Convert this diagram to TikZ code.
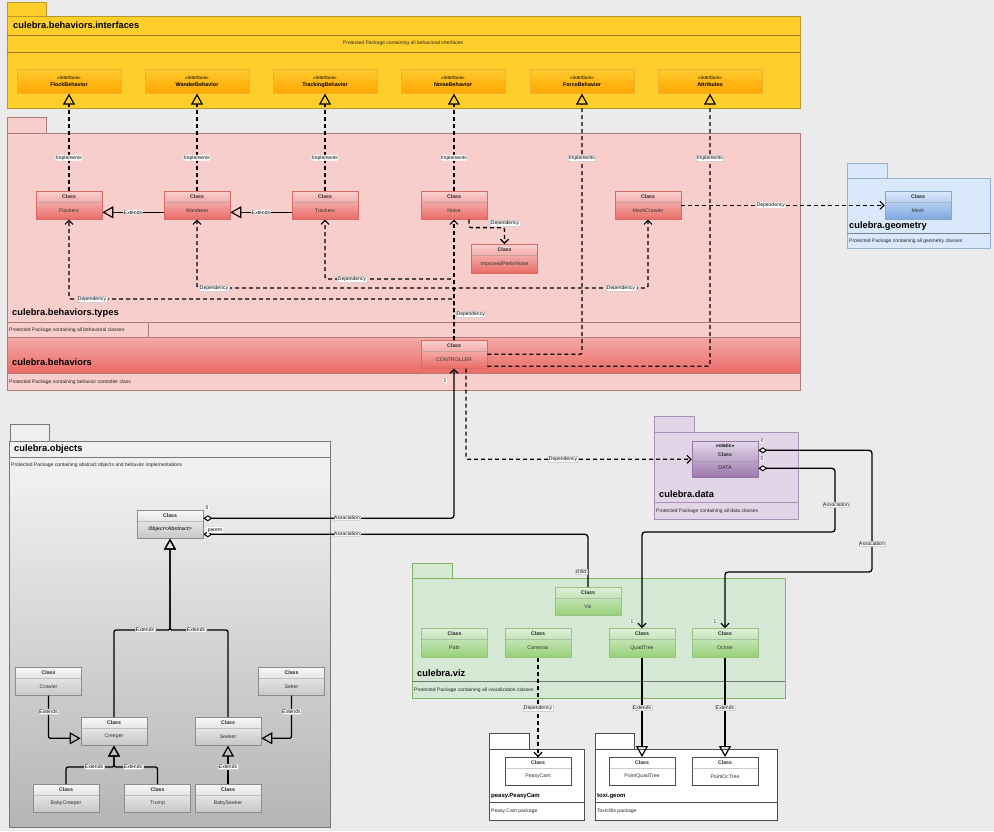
\documentclass[tikz,border=0pt]{standalone}
\usepackage{fontspec}
\setmainfont{Liberation Sans}
\usetikzlibrary{arrows.meta}
\definecolor{bg}{HTML}{EBEBEB}
\definecolor{yfill}{HTML}{FFCE2A}
\definecolor{yborder}{HTML}{B8962A}
\definecolor{itop}{HTML}{FFCB2E}
\definecolor{ibot}{HTML}{FFA500}
\definecolor{iborder}{HTML}{F0B030}
\definecolor{pfill}{HTML}{F8CECC}
\definecolor{pborder}{HTML}{B07A78}
\definecolor{ctop}{HTML}{F9D2D0}
\definecolor{cbot}{HTML}{EA6B66}
\definecolor{cborder}{HTML}{D86A66}
\definecolor{bandtop}{HTML}{F5ABA8}
\definecolor{bandbot}{HTML}{EA6B66}
\definecolor{gfill}{HTML}{DAE8FC}
\definecolor{gborder}{HTML}{6C8EBF}
\definecolor{mbot}{HTML}{7EA6E0}
\definecolor{dfill}{HTML}{E1D5E7}
\definecolor{dborder}{HTML}{9673A6}
\definecolor{dtop}{HTML}{E4D8EA}
\definecolor{dbot}{HTML}{9A78AC}
\definecolor{vfill}{HTML}{D5E8D4}
\definecolor{vborder}{HTML}{82B366}
\definecolor{vtop}{HTML}{DDF0DA}
\definecolor{vbot}{HTML}{97D077}
\definecolor{otop}{HTML}{F0F0F0}
\definecolor{obot}{HTML}{B5B5B5}
\definecolor{oborder}{HTML}{777777}
\newcommand{\fs}[1]{\fontsize{#1}{#1}\selectfont}
\tikzset{
 lbl/.style={fill=white, draw=black!18, line width=0.2pt, inner sep=0.6pt, font=\fs{5}},
 mult/.style={fill=white, inner sep=0.6pt, font=\fs{5}},
 dep/.style={draw=black, line width=1.3pt, dash pattern=on 4pt off 3pt, -{Straight Barb[length=4pt,width=8pt,line width=1.1pt]}, rounded corners=2pt},
 ext/.style={draw=black, line width=1.3pt, -{Triangle[open,length=11pt,width=12pt,line width=1.2pt]}, rounded corners=2pt},
 impl/.style={ext, dash pattern=on 4pt off 3pt},
 assoc/.style={draw=black, line width=1.3pt, {Diamond[fill=white,length=9pt,width=6pt,line width=1pt]}-{Straight Barb[length=4pt,width=8pt,line width=1.1pt]}, rounded corners=3pt},
 assocn/.style={draw=black, line width=1.3pt, {Diamond[fill=white,length=9pt,width=6pt,line width=1pt]}-, rounded corners=3pt},
 ptitle/.style={font=\fs{9.3}\bfseries, anchor=west, inner sep=0},
 stitle/.style={font=\fs{6}\bfseries, anchor=west, inner sep=0},
 pdesc/.style={font=\fs{5}, anchor=west, inner sep=0, text=black!85},
 clsbox/.style={minimum width=66pt, inner sep=0, line width=0.6pt},
 cpink/.style={top color=ctop, bottom color=cbot, draw=cborder},
 cblue/.style={top color=gfill, bottom color=mbot, draw=gborder!80},
 cgreen/.style={top color=vtop, bottom color=vbot, draw=vborder!80},
 cgray/.style={top color=white!97!black, bottom color=black!22, draw=black!45},
 cwhite/.style={fill=white, draw=black!70},
 sepline/.style={draw=white!60!black, line width=0.4pt, opacity=0.5},
 clshead/.style={font=\fs{5.2}\bfseries, inner sep=0, text=black!85},
 clsname/.style={font=\fs{5.2}, inner sep=0, text=black!80},
 intfbox/.style={minimum width=104pt, minimum height=24pt, inner sep=0, top color=itop, bottom color=ibot, draw=iborder, line width=0.6pt},
}
\newcommand{\ucls}[6]{%
 \node[clsbox, #5, minimum height=#4pt, anchor=north] (#1) at (#2,#3) {};
 \draw[sepline] ([yshift=-11pt]#1.north west) -- ([yshift=-11pt]#1.north east);
 \node[clshead] (#1-h) at ([yshift=-5.5pt]#1.north) {Class};
 \node[clsname] (#1-n) at ([yshift={-(#4+11)/2}]#1.north) {#6};
}
\newcommand{\uintf}[3]{%
 \node[intfbox, anchor=north] (#1) at (#2,69) {};
 \node[font=\fs{4.8}, inner sep=0] (#1-s) at ([yshift=-8.7pt]#1.north) {«interface»};
 \node[font=\fs{5.4}\bfseries, inner sep=0] (#1-n) at ([yshift=-15.7pt]#1.north) {#3};
}
\begin{document}
\begin{tikzpicture}[x=1pt,y=-1pt]
\useasboundingbox (0,0) rectangle (994,831);
\fill[bg] (0,0) rectangle (994,831);

% ---------- interfaces package
\draw[fill=yfill, draw=yborder, line width=0.6pt] (7,2) rectangle (46,16);
\draw[fill=yfill, draw=yborder, line width=0.6pt] (7,16) rectangle (800,108);
\draw[draw=yborder!80!black, line width=0.6pt] (7,35) -- (800,35) (7,52) -- (800,52);
\node[ptitle] (tIntf) at (13,25) {culebra.behaviors.interfaces};
\node[font=\fs{5}, inner sep=0, text=black!85] (dIntf) at (403,43.5) {Protected Package containing all behavioral interfaces};
\uintf{FlockBehavior}{69}{FlockBehavior}
\uintf{WanderBehavior}{197}{WanderBehavior}
\uintf{TrackingBehavior}{325}{TrackingBehavior}
\uintf{NoiseBehavior}{453}{NoiseBehavior}
\uintf{ForceBehavior}{582}{ForceBehavior}
\uintf{Attributes}{710}{Attributes}

% ---------- types / behaviors package
\draw[fill=pfill, draw=pborder, line width=0.6pt] (7,117) rectangle (46,133);
\draw[fill=pfill, draw=pborder, line width=0.6pt] (7,133) rectangle (800,322);
\node[ptitle] (tTypes) at (12,313) {culebra.behaviors.types};
\draw[fill=pfill, draw=pborder, line width=0.6pt] (7,322) rectangle (800,337);
\draw[draw=pborder, line width=0.5pt] (7,322) rectangle (148,337);
\node[pdesc] (dTypes) at (9,330) {Protected Package containing all behavioral classes};
\shade[top color=bandtop, bottom color=bandbot] (7,337) rectangle (800,373);
\draw[draw=pborder, line width=0.6pt] (7,337) rectangle (800,373);
\node[ptitle] (tBeh) at (12,362) {culebra.behaviors};
\draw[fill=pfill, draw=pborder, line width=0.6pt] (7,373) rectangle (800,390);
\node[pdesc] (dBeh) at (9,382) {Protected Package containing behavior controller class};

\ucls{Flockers}{69}{191}{28}{cpink}{Flockers}
\ucls{Wanderer}{197}{191}{28}{cpink}{Wanderer}
\ucls{Trackers}{325}{191}{28}{cpink}{Trackers}
\ucls{Noise}{454}{191}{28}{cpink}{Noise}
\ucls{MeshCrawler}{648}{191}{28}{cpink}{MeshCrawler}
\ucls{ImprovedPerlinNoise}{504.5}{244}{29}{cpink}{ImprovedPerlinNoise}
\ucls{CONTROLLER}{454}{340}{28}{cpink}{CONTROLLER}

% ---------- geometry package
\draw[fill=gfill, draw=gborder!70, line width=0.6pt] (847,163) rectangle (887,178);
\draw[fill=gfill, draw=gborder!70, line width=0.6pt] (847,178) rectangle (990,248);
\draw[draw=black!50, line width=0.5pt] (847,233) -- (990,233);
\node[ptitle] (tGeo) at (849,226) {culebra.geometry};
\node[pdesc] (dGeo) at (849,241) {Protected Package containing all geometry classes};
\ucls{Mesh}{918}{191}{28}{cblue}{Mesh}

% ---------- objects package
\draw[fill=otop, draw=oborder, line width=0.6pt] (10,424) rectangle (49,441);
\draw[fill=otop, draw=oborder, line width=0.6pt] (9,441) rectangle (330,474);
\draw[draw=oborder, line width=0.6pt] (9,457) -- (330,457);
\shade[top color=otop, bottom color=obot] (9,474) rectangle (330,827);
\draw[draw=oborder, line width=0.6pt] (9,441) rectangle (330,827);
\node[ptitle] (tObj) at (14,449) {culebra.objects};
\node[pdesc] (dObj) at (11,465) {Protected Package containing abstract objects and behavior implementations};
\node[clsbox, cgray, minimum height=28pt, anchor=north] (Object) at (170,510) {};
\draw[sepline] ([yshift=-11pt]Object.north west) -- ([yshift=-11pt]Object.north east);
\node[clshead] (Object-h) at ([yshift=-5.5pt]Object.north) {Class};
\node[clsname, font=\fs{5.2}\bfseries\itshape] (Object-n) at ([yshift=-19.5pt]Object.north) {Object<Abstract>};
\ucls{Crawler}{48.5}{667}{28}{cgray}{Crawler}
\ucls{Setter}{291.5}{667}{28}{cgray}{Setter}
\ucls{Creeper}{114}{717}{28}{cgray}{Creeper}
\ucls{Seeker}{228}{717}{28}{cgray}{Seeker}
\ucls{BabyCreeper}{66}{784}{28}{cgray}{BabyCreeper}
\ucls{Trump}{157.5}{784}{28}{cgray}{Trump}
\ucls{BabySeeker}{228}{784}{28}{cgray}{BabySeeker}

% ---------- data package
\draw[fill=dfill, draw=dborder!80, line width=0.6pt] (654,416) rectangle (694,432);
\draw[fill=dfill, draw=dborder!80, line width=0.6pt] (654,432) rectangle (798,519);
\draw[draw=dborder!80, line width=0.6pt] (654,502) -- (798,502);
\node[ptitle] (tData) at (659,494) {culebra.data};
\node[pdesc] (dData) at (656,511) {Protected Package containing all data classes};
\node[clsbox, top color=dtop, bottom color=dbot, draw=dborder, minimum height=36pt, anchor=north] (DATA) at (725,441) {};
\draw[sepline] ([yshift=-20pt]DATA.north west) -- ([yshift=-20pt]DATA.north east);
\node[font=\fs{5}\bfseries, inner sep=0] (DATA-st) at ([yshift=-5pt]DATA.north) {<<static>>};
\node[clshead] (DATA-h) at ([yshift=-13.5pt]DATA.north) {Class};
\node[clsname, text=black!85] (DATA-n) at ([yshift=-26.5pt]DATA.north) {DATA};

% ---------- viz package
\draw[fill=vfill, draw=vborder, line width=0.6pt] (412,563) rectangle (452,578);
\draw[fill=vfill, draw=vborder, line width=0.6pt] (412,578) rectangle (785,698);
\draw[draw=black!55, line width=0.5pt] (412,681) -- (785,681);
\node[ptitle] (tViz) at (417,673) {culebra.viz};
\node[pdesc] (dViz) at (414,690) {Protected Package containing all visualization classes};
\ucls{Viz}{588}{587}{28}{cgreen}{Viz}
\ucls{Path}{454.5}{628}{29}{cgreen}{Path}
\ucls{Cameras}{538}{628}{29}{cgreen}{Cameras}
\ucls{QuadTree}{642}{628}{29}{cgreen}{QuadTree}
\ucls{Octree}{725}{628}{29}{cgreen}{Octree}

% ---------- peasy / toxi packages
\draw[fill=white, draw=black!70, line width=0.6pt] (489,733) rectangle (529,749);
\draw[fill=white, draw=black!70, line width=0.6pt] (489,749) rectangle (584,820);
\draw[draw=black!70, line width=0.5pt] (489,802) -- (584,802);
\node[stitle] (tPeasy) at (491,796) {peasy.PeasyCam};
\node[pdesc] (dPeasy) at (491,811) {Peasy Cam package};
\ucls{PeasyCam}{538}{757}{28}{cwhite}{PeasyCam}
\draw[fill=white, draw=black!70, line width=0.6pt] (595,733) rectangle (634,749);
\draw[fill=white, draw=black!70, line width=0.6pt] (595,749) rectangle (777,820);
\draw[draw=black!70, line width=0.5pt] (595,802) -- (777,802);
\node[stitle] (tToxi) at (597,796) {toxi.geom};
\node[pdesc] (dToxi) at (597,811) {Toxiclibs package};
\ucls{PointQuadTree}{642}{757}{28}{cwhite}{PointQuadTree}
\ucls{PointOcTree}{725}{757}{28}{cwhite}{PointOcTree}

% ---------- helper coordinates
\coordinate (hTr) at (0,279);
\coordinate (hWa) at (0,288);
\coordinate (hFl) at (0,299);
\coordinate (hObj) at (0,630);
\coordinate (hCr) at (0,767);
\coordinate (vQa) at (835,0);
\coordinate (hQa) at (0,532);
\coordinate (vOa) at (872,0);
\coordinate (hOa) at (0,572);
\coordinate (DQ) at ([yshift=-9pt]DATA.east);
\coordinate (DO) at ([yshift=9pt]DATA.east);

% ---------- implements
\draw[impl] (Flockers.north) -- (FlockBehavior.south) node[lbl, pos=0.34] (iFl) {Implements};
\draw[impl] (Wanderer.north) -- (WanderBehavior.south) node[lbl, pos=0.34] (iWa) {Implements};
\draw[impl] (Trackers.north) -- (TrackingBehavior.south) node[lbl, pos=0.34] (iTr) {Implements};
\draw[impl] (Noise.north) -- (Noise.north |- NoiseBehavior.south) node[lbl, pos=0.34] (iNo) {Implements};
\draw[impl] (CONTROLLER.east) -| (ForceBehavior.south);
\node[lbl] (iFo) at (582,158) {Implements};
\draw[impl] ([yshift=-12pt]CONTROLLER.east) -| (Attributes.south);
\node[lbl] (iAt) at (710,158) {Implements};

% ---------- extends in types
\draw[ext] ([yshift=-7pt]Wanderer.west) -- ([yshift=-7pt]Flockers.east) node[lbl, midway] (eWa) {Extends};
\draw[ext] ([yshift=-7pt]Trackers.west) -- ([yshift=-7pt]Wanderer.east) node[lbl, midway] (eTr) {Extends};

% ---------- dependencies from CONTROLLER
\draw[dep] (CONTROLLER.north) -- (Noise.south);
\draw[dep] (CONTROLLER.north) -- (CONTROLLER.north |- hTr) -- (Trackers.south |- hTr) -- (Trackers.south);
\draw[dep] (CONTROLLER.north) -- (CONTROLLER.north |- hWa) -- (Wanderer.south |- hWa) -- (Wanderer.south);
\draw[dep] (CONTROLLER.north) -- (CONTROLLER.north |- hWa) -- (MeshCrawler.south |- hWa) -- (MeshCrawler.south);
\draw[dep] (CONTROLLER.north) -- (CONTROLLER.north |- hFl) -- (Flockers.south |- hFl) -- (Flockers.south);
\node[lbl, anchor=west] (dC) at (456,314) {Dependency};
\node[lbl] (dTr) at (352,279) {Dependency};
\node[lbl] (dWa) at (214,288) {Dependency};
\node[lbl] (dFl) at (92,299) {Dependency};
\node[lbl] (dMc) at (621,288) {Dependency};
\draw[dep] ([xshift=15pt]Noise.south) -- ++(0,8) -| (ImprovedPerlinNoise.north);
\node[lbl] (dNo) at (505,223) {Dependency};
\draw[dep] (MeshCrawler.east) -- (Mesh.west) node[lbl, pos=0.44] (dMe) {Dependency};
\draw[dep] ([xshift=12pt]CONTROLLER.south) |- (DATA.west);
\node[lbl] (dDa) at (563,459) {Dependency};

% ---------- associations
\draw[assoc] ([yshift=6pt]Object.east) -| (CONTROLLER.south);
\node[lbl] (aC) at (347,518) {Association};
\node[mult] (m0a) at (207,508) {0};
\node[mult] (m1a) at (445,381) {1};
\draw[assocn] ([yshift=-10pt]Object.east) -| (Viz.north);
\node[lbl] (aV) at (347,534) {Association};
\node[mult] (mpar) at (215,530) {parent};
\node[lbl] (mchild) at (581,572) {child};
\draw[assoc] (DQ) -- (DQ -| vQa) -- (vQa |- hQa) -- (QuadTree.north |- hQa) -- (QuadTree.north);
\node[lbl] (aQ) at (836,505) {Association};
\draw[assoc] (DO) -- (DO -| vOa) -- (vOa |- hOa) -- (Octree.north |- hOa) -- (Octree.north);
\node[lbl] (aO) at (872,544) {Association};
\node[mult] (m0b) at (762,441) {0};
\node[mult] (m0c) at (762,459) {0};
\node[mult] (m1q) at (632,622) {1};
\node[mult] (m1o) at (715,622) {1};

% ---------- viz to external
\draw[dep] (Cameras.south) -- (PeasyCam.north);
\node[lbl] (dCa) at (538,708) {Dependency};
\draw[ext] (QuadTree.south) -- (PointQuadTree.north);
\node[lbl] (eQ) at (642,708) {Extends};
\draw[ext] (Octree.south) -- (PointOcTree.north);
\node[lbl] (eO) at (725,708) {Extends};

% ---------- objects inheritance
\draw[ext] (Creeper.north) |- (Object.south |- hObj) -- (Object.south);
\draw[ext] (Seeker.north) |- (Object.south |- hObj) -- (Object.south);
\node[lbl] (eCr) at (145,630) {Extends};
\node[lbl] (eSe) at (196,630) {Extends};
\draw[ext] (Crawler.south) |- ([yshift=-7pt]Creeper.west);
\node[lbl] (eCw) at (48.5,712) {Extends};
\draw[ext] (Setter.south) |- ([yshift=-7pt]Seeker.east);
\node[lbl] (eSt) at (291.5,712) {Extends};
\draw[ext] (BabyCreeper.north) |- (Creeper.south |- hCr) -- (Creeper.south);
\draw[ext] (Trump.north) |- (Creeper.south |- hCr) -- (Creeper.south);
\node[lbl] (eBc) at (94,767) {Extends};
\node[lbl] (eTp) at (133,767) {Extends};
\draw[ext] (BabySeeker.north) -- (Seeker.south);
\node[lbl] (eBs) at (228,767) {Extends};
\end{tikzpicture}
\end{document}
